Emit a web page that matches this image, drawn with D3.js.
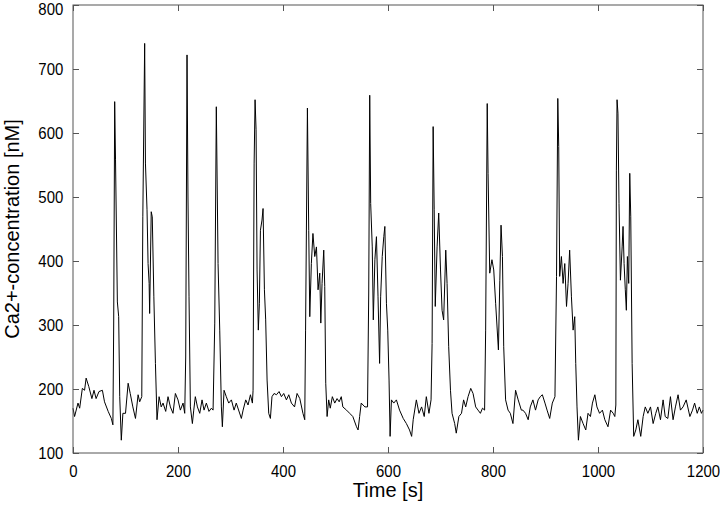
<!DOCTYPE html>
<html>
<head>
<meta charset="utf-8">
<script src="https://cdn.jsdelivr.net/npm/d3@7"></script>
<style>
  body { margin: 0; background: #fff; }
  svg { display: block; font-family: "Liberation Sans", Arial, sans-serif; }
</style>
</head>
<body>
<svg id="chart"></svg>
<script>
// time in seconds, Ca2+ concentration in nM
var times = [
  0, 3, 9.5, 12.7, 17.8, 22, 25, 30, 36, 40, 44, 49.5, 56, 60, 67, 73, 76, 77.5,
  79.4, 81, 84.5, 87, 89, 92, 95, 100, 105, 109, 114, 119, 124, 127, 131, 133,
  136.5, 138, 141, 143, 145, 146, 149, 151, 154, 157, 160, 164, 168,
  171.5, 176.6, 181, 185.5, 190.5, 195, 200, 204.5, 209.6, 212.8, 214.7, 217.2,
  219, 221, 223.6, 227.4, 230, 233, 237, 241.4, 245.8, 249.6, 254, 259, 263.6,
  266.8, 270, 273, 276.3, 279.5, 282.6, 284.5, 287.7, 292, 296.6, 301.7, 306.8,
  311, 320.7, 324, 329, 333.4, 338, 341.7,
  343, 345, 346.8, 348.7, 350.6, 353, 355, 357, 360, 362, 364.6, 367, 369.7,
  372.8, 376, 379, 383, 387.5, 392.5, 397, 401.4, 406.5, 411, 416, 422, 426.8,
  432, 438, 441.4, 443, 446.5, 449, 451, 454, 457, 460.5, 463.7, 466.8, 470,
  472, 474.4, 477.6, 479.5, 481.4, 484, 487, 490, 494, 498.6, 503, 507, 511,
  514, 521, 527, 533, 540, 543, 546, 549, 556, 561, 563.3, 565.2, 567, 570, 572,
  575, 578, 581, 584, 586, 589, 592, 594, 597, 599.5, 602, 604, 606.5, 611, 616,
  622, 629, 635, 641, 645, 648, 654, 659, 664, 669, 673, 678, 682, 684,
  686, 688, 690, 693.5, 696.6, 700, 703, 706, 710, 712.5, 715.6, 719, 722, 727,
  730, 735, 740, 744, 748, 752.5, 757.6, 762, 767, 771.5, 776, 780, 784, 786,
  789, 790.6, 793.8, 798, 801.4, 805, 810.3, 813, 815.3, 818, 820.4, 824, 828.7,
  833, 838, 843, 848, 854,
  857, 862, 867, 871, 876, 881, 886, 890, 894, 899, 903, 908, 913, 918, 921,
  923.4, 925.2, 927, 930.3, 933.5, 936.7, 940, 943, 946, 949.4, 952.6, 955.7,
  957.6, 960, 962.7, 966.5, 971.6, 976.7, 981, 985.6, 989.4, 994, 998, 1003,
  1008.4, 1013, 1019, 1024,
  1029, 1032, 1034, 1035, 1036.3, 1038, 1040, 1042.7, 1046, 1047.7, 1049.7,
  1052, 1054, 1056, 1058.5, 1060.5, 1062.4, 1065, 1068, 1072, 1076, 1081.4,
  1086, 1090, 1095, 1100, 1105, 1110, 1114, 1119, 1124, 1128, 1133, 1138, 1143,
  1147.5, 1152.5, 1157, 1162, 1168, 1175, 1180, 1184, 1189, 1193, 1197, 1200
]
var calcium = [
  170, 157, 178, 170, 201, 198, 217, 204, 185, 198, 185, 196, 198, 180, 165, 154, 144, 300,
  649, 558, 336, 313, 188, 120, 162, 162, 209, 193, 172, 154, 191, 180, 188, 469,
  740, 553, 480, 396, 365, 318, 477, 469, 344, 240, 152, 188, 172,
  178, 165, 188, 172, 162, 193, 183, 167, 178, 162, 250, 722,
  500, 344, 172, 146, 167, 188, 172, 162, 183, 167, 178, 165, 170,
  167, 303, 641, 396, 292, 172, 141, 198, 188, 178, 183, 167,
  178, 154, 167, 183, 175, 191, 178,
  198, 553, 652, 605, 386, 292, 334, 448, 464, 482, 355, 308, 214,
  162, 154, 188, 193, 191, 196, 188, 193, 183, 191, 178, 172, 193,
  185, 162, 152, 292, 639, 448, 313, 396, 443, 407, 422, 355, 381,
  303, 365, 417, 360, 209, 157, 183, 170, 188, 178, 185, 180, 188,
  172, 167, 162, 157, 141, 136, 157, 178, 172, 172, 350, 659, 490, 422, 308,
  402, 438, 344, 240, 344, 407, 438, 454, 334, 292, 214, 126, 183, 178, 183,
  167, 154, 146, 136, 126, 152, 183, 162, 172, 157, 188, 162, 183, 271,
  610, 480, 329, 422, 475, 386, 323, 308, 417, 365, 266, 198, 162, 146,
  131, 157, 162, 183, 172, 188, 201, 193, 172, 167, 162, 170, 167, 292,
  646, 537, 381, 402, 386, 334, 261, 370, 456, 407, 266, 183, 167,
  162, 146, 198, 183, 167,
  167, 162, 152, 172, 183, 167, 183, 188, 191, 178, 167, 154, 178, 188, 376,
  654, 579, 376, 407, 365, 396, 329, 365, 417, 344, 292, 313,
  240, 172, 120, 157, 146, 136, 162, 157, 178, 191, 172, 162,
  167, 152, 141, 167,
  162, 157, 175, 542, 652, 631, 490, 370, 422, 454, 396,
  355, 323, 407, 365, 537, 469, 240, 126, 136, 152, 126,
  157, 172, 162, 172, 146, 162, 172, 152, 183, 157, 154, 188, 152,
  172, 191, 167, 172, 183, 157, 167, 178, 162, 172, 162, 167
]
var xTicks = [0, 200, 400, 600, 800, 1000, 1200]
var yTicks = [100, 200, 300, 400, 500, 600, 700, 800]

var width = 720
var height = 505
var margin = { top: 5, right: 17, bottom: 52, left: 73 }

var data = times.map((t, i) => ({ t: t, v: calcium[i] }))

var x = d3
  .scaleLinear()
  .domain([0, 1200])
  .range([margin.left, width - margin.right])

var y = d3
  .scaleLinear()
  .domain([100, 800])
  .range([height - margin.bottom, margin.top])

var svg = d3.select('#chart')
  .attr('width', width)
  .attr('height', height)

var axisColor = '#555'
var tickLen = 6

function styleAxis(g) {
  g.select('.domain').remove()
  g.selectAll('.tick line').attr('stroke', axisColor)
  g.selectAll('.tick text')
    .attr('fill', '#000')
    .attr('font-size', 17)
}

// bottom axis, ticks pointing in (labels a bit narrow, like the original)
svg.append('g')
  .attr('transform', `translate(0,${height - margin.bottom})`)
  .call(d3.axisBottom(x).tickValues(xTicks).tickFormat(d3.format('d'))
    .tickSizeInner(-tickLen).tickSizeOuter(0).tickPadding(10))
  .call(styleAxis)
  .call(g => g.selectAll('.tick text').attr('dy', '0.8em').attr('transform', 'scale(0.88,1)'))

// top axis, ticks only
svg.append('g')
  .attr('transform', `translate(0,${margin.top})`)
  .call(d3.axisTop(x).tickValues(xTicks).tickSizeInner(-tickLen).tickSizeOuter(0).tickFormat(''))
  .call(styleAxis)

// left axis
svg.append('g')
  .attr('transform', `translate(${margin.left},0)`)
  .call(d3.axisLeft(y).tickValues(yTicks).tickFormat(d3.format('d'))
    .tickSizeInner(-tickLen).tickSizeOuter(0).tickPadding(11))
  .call(styleAxis)
  .call(g => g.selectAll('.tick text').attr('transform', 'scale(0.88,1)'))
  // keep the top label inside the page, like the original
  .call(g => g.selectAll('.tick text').filter(d => d === 800).attr('dy', '0.55em'))

// right axis, ticks only
svg.append('g')
  .attr('transform', `translate(${width - margin.right},0)`)
  .call(d3.axisRight(y).tickValues(yTicks).tickSizeInner(-tickLen).tickSizeOuter(0).tickFormat(''))
  .call(styleAxis)

var line = d3.line()
  .x(d => x(d.t))
  .y(d => y(d.v))

svg.append('path')
  .datum(data)
  .attr('fill', 'none')
  .attr('stroke', '#000')
  .attr('stroke-width', 1)
  .attr('stroke-linejoin', 'round')
  .attr('d', line)

// axes box
svg.append('rect')
  .attr('x', margin.left)
  .attr('y', margin.top)
  .attr('width', width - margin.left - margin.right)
  .attr('height', height - margin.top - margin.bottom)
  .attr('fill', 'none')
  .attr('stroke', axisColor)
  .attr('stroke-width', 1)

svg.append('text')
  .attr('x', (margin.left + width - margin.right) / 2)
  .attr('y', 497)
  .attr('text-anchor', 'middle')
  .attr('font-size', 20)
  .text('Time [s]')

svg.append('text')
  .attr('transform', `translate(19,${(margin.top + height - margin.bottom) / 2}) rotate(-90)`)
  .attr('text-anchor', 'middle')
  .attr('font-size', 20)
  .text('Ca2+-concentration [nM]')
</script>
</body>
</html>
